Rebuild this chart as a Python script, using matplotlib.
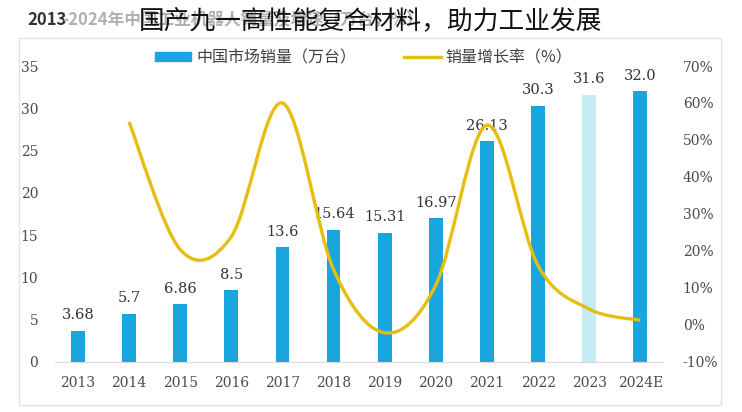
import matplotlib.pyplot as plt
from matplotlib.path import Path
from matplotlib.patches import PathPatch, Rectangle, Patch
from matplotlib.lines import Line2D

plt.rcParams['font.family'] = ['DejaVu Serif', 'Noto Sans CJK SC']

# 数据
years = ['2013', '2014', '2015', '2016', '2017', '2018', '2019', '2020', '2021', '2022', '2023', '2024E']
sales = [3.68, 5.7, 6.86, 8.5, 13.6, 15.64, 15.31, 16.97, 26.13, 30.3, 31.6, 32.0]
labels = ['3.68', '5.7', '6.86', '8.5', '13.6', '15.64', '15.31', '16.97', '26.13', '30.3', '31.6', '32.0']
growth = [None, 54.9, 20.4, 23.9, 60.0, 15.0, -2.1, 10.8, 54.0, 16.0, 4.3, 1.3]

bar_color = '#19A6DE'
light_color = '#C6ECF4'
line_color = '#E6BE12'
tick_color = '#4A4A4A'

fig = plt.figure(figsize=(7.42, 4.12), dpi=100)
ax = fig.add_axes([0.074, 0.1214, 0.82, 0.7184])

x = list(range(len(years)))
colors = [light_color if y == '2023' else bar_color for y in years]
ax.bar(x, sales, width=0.27, color=colors, zorder=2)
for i, v in enumerate(sales):
    ax.text(i, v + 1.0, labels[i], ha='center', va='bottom', fontsize=10.5, color='#333333', zorder=4)

ax.set_xlim(-0.45, 11.45)
ax.set_ylim(0, 35)
ax.set_yticks(range(0, 36, 5))
ax.set_xticks(x)
ax.set_xticklabels(years)
ax.tick_params(axis='both', length=0, labelsize=10, colors=tick_color)
ax.tick_params(axis='y', pad=12)
ax.tick_params(axis='x', pad=10)
for s in ['top', 'right', 'left']:
    ax.spines[s].set_visible(False)
ax.spines['bottom'].set_color('#D9D9D9')

ax2 = ax.twinx()
ax2.set_ylim(-10, 70)
ax2.set_yticks(range(-10, 71, 10))
ax2.set_yticklabels([f'{t}%' for t in range(-10, 71, 10)])
ax2.tick_params(axis='y', length=0, labelsize=10, colors=tick_color, pad=14)
for s in ['top', 'right', 'left', 'bottom']:
    ax2.spines[s].set_visible(False)

# 平滑曲线（Catmull-Rom 转贝塞尔）
pts = [(i, g) for i, g in enumerate(growth) if g is not None]
verts = [pts[0]]
codes = [Path.MOVETO]
for k in range(len(pts) - 1):
    p0 = pts[k - 1] if k > 0 else pts[k]
    p1 = pts[k]
    p2 = pts[k + 1]
    p3 = pts[k + 2] if k + 2 < len(pts) else pts[k + 1]
    c1 = (p1[0] + (p2[0] - p0[0]) / 6, p1[1] + (p2[1] - p0[1]) / 6)
    c2 = (p2[0] - (p3[0] - p1[0]) / 6, p2[1] - (p3[1] - p1[1]) / 6)
    verts += [c1, c2, p2]
    codes += [Path.CURVE4] * 3
ax2.add_patch(PathPatch(Path(verts, codes), facecolor='none', edgecolor=line_color, lw=2.4, zorder=3))

# 图例
handles = [Patch(color=bar_color), Line2D([], [], color=line_color, lw=2.4)]
fig.legend(handles, ['中国市场销量（万台）', '销量增长率（%）'], loc='center', bbox_to_anchor=(0.49, 0.859),
           ncol=2, frameon=False, handlelength=2.3, handleheight=0.5, columnspacing=3.0, handletextpad=0.3,
           labelcolor='#404040', prop={'family': ['Noto Sans CJK SC'], 'size': 11.5})

# 外框
fig.patches.append(Rectangle((19 / 742, 1 - 405 / 412), 702 / 742, 367 / 412, transform=fig.transFigure,
                             fill=False, edgecolor='#E3E3E3', lw=1))

# 标题（原图底层标题被上层文字覆盖）
fig.text(27 / 742, 1 - 20 / 412, '2013', fontsize=12, fontweight='bold', color='#333333',
         family=['Noto Sans CJK SC'], va='center', ha='left')
fig.text(62 / 742, 1 - 20 / 412, '-2024年中国工业机器人销量及增速（万台，%）', fontsize=12, fontweight='bold',
         color='#B0B0B0', family=['Noto Sans CJK SC'], va='center', ha='left')
fig.text(0.5, 1 - 22 / 412, '国产九一高性能复合材料，助力工业发展', fontsize=18.5, color='#111111',
         family=['Noto Sans CJK SC'], va='center', ha='center')

fig.savefig('out.png', dpi=100)
